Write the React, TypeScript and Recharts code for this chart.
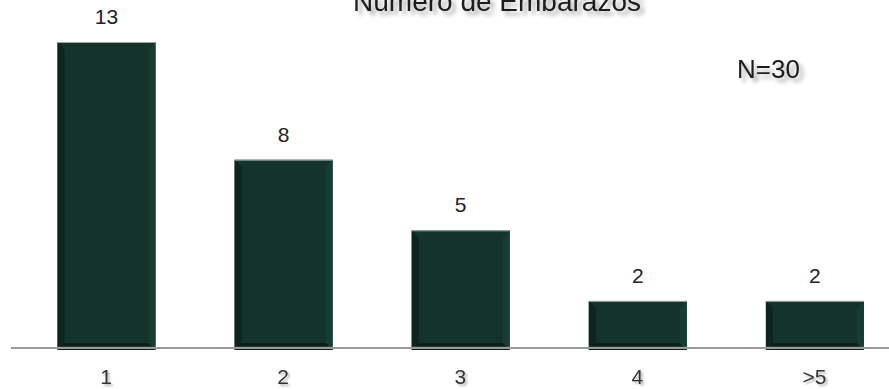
import React from "react";
import { BarChart, Bar, XAxis, YAxis, LabelList } from "recharts";

const categories = ["1", "2", "3", "4", ">5"];
const embarazos = [13, 8, 5, 2, 2];
const title = "Número de Embarazos";
const sampleNote = "N=30";

const data = categories.map((c, i) => ({ name: c, value: embarazos[i] }));

const FONT = "'Liberation Sans', Arial, sans-serif";

function BevelBar(props: any) {
  const { x, y, width, height } = props;
  if (!height || height <= 0) return null;
  const b = 7;
  const bottom = y + height + 2;
  return (
    <g>
      <rect x={x} y={y} width={width} height={bottom - y} fill="#13332b" />
      {/* left bevel */}
      <polygon
        points={`${x},${y} ${x + b},${y + b} ${x + b},${bottom - b} ${x},${bottom}`}
        fill="#0d251e"
      />
      {/* right bevel */}
      <polygon
        points={`${x + width},${y} ${x + width - b},${y + b} ${x + width - b},${bottom - b} ${x + width},${bottom}`}
        fill="#173c32"
      />
      {/* bottom bevel */}
      <polygon
        points={`${x},${bottom} ${x + b},${bottom - b} ${x + width - b},${bottom - b} ${x + width},${bottom}`}
        fill="#0b1f19"
      />
      <line x1={x} x2={x + width} y1={y + 0.5} y2={y + 0.5} stroke="#9aa8a3" strokeWidth={1} />
      <line x1={x} x2={x + width} y1={y + height - 0.5} y2={y + height - 0.5} stroke="#7f8f8a" strokeWidth={1.5} />
    </g>
  );
}

function Tick(props: any) {
  const { x, payload } = props;
  return (
    <text
      x={x}
      y={384}
      textAnchor="middle"
      fontSize={21}
      fontFamily={FONT}
      fill="#333"
      filter="url(#tshadow)"
    >
      {payload.value}
    </text>
  );
}

export default function App() {
  return (
    <div
      style={{
        position: "absolute",
        left: 0,
        top: 0,
        width: 889,
        height: 389,
        overflow: "hidden",
        background: "#fff",
      }}
    >
      <BarChart
        width={903}
        height={389}
        data={data}
        margin={{ top: 42, right: 0, left: 11, bottom: 0 }}
      >
        <defs>
          <filter id="tshadow" x="-20%" y="-20%" width="150%" height="160%">
            <feDropShadow dx="2" dy="2" stdDeviation="1" floodColor="#000" floodOpacity="0.3" />
          </filter>
          <filter id="bigshadow" x="-20%" y="-30%" width="150%" height="180%">
            <feDropShadow dx="4" dy="4" stdDeviation="2" floodColor="#000" floodOpacity="0.35" />
          </filter>
        </defs>
        <text
          x={497}
          y={11}
          textAnchor="middle"
          fontSize={28}
          fontFamily={FONT}
          fill="#1a1a1a"
          filter="url(#bigshadow)"
        >
          {title}
        </text>
        <text
          x={737}
          y={78}
          fontSize={26}
          fontFamily={FONT}
          fill="#1a1a1a"
          filter="url(#bigshadow)"
        >
          {sampleNote}
        </text>
        <YAxis hide domain={[0, 13]} />
        <XAxis
          dataKey="name"
          height={41}
          padding={{ left: 6.5, right: 0 }}
          tickLine={false}
          axisLine={{ stroke: "#9a9a9a", strokeWidth: 2 }}
          tick={<Tick />}
          interval={0}
        />
        <Bar dataKey="value" barSize={98} shape={<BevelBar />} isAnimationActive={false}>
          <LabelList
            dataKey="value"
            position="top"
            offset={18}
            fontSize={21}
            fontFamily={FONT}
            fill="#222"
          />
        </Bar>
      </BarChart>
    </div>
  );
}
